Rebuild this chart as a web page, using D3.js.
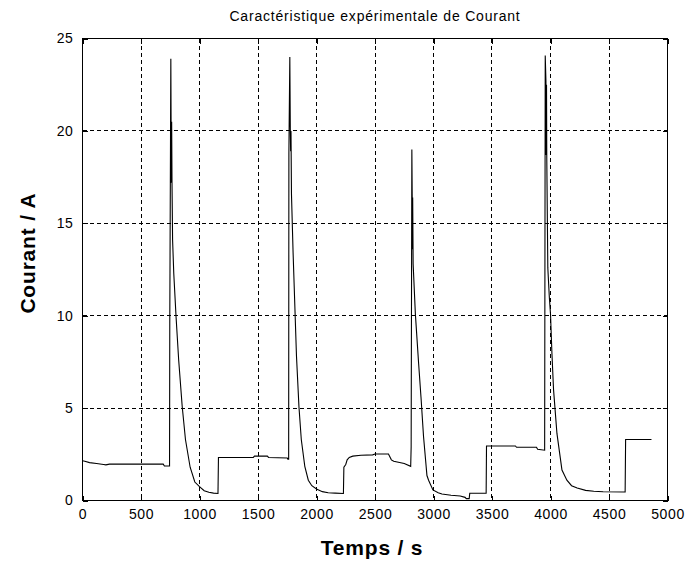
<!DOCTYPE html>
<html>
<head>
<meta charset="utf-8">
<script src="https://cdn.jsdelivr.net/npm/d3@7"></script>
<style>
  html, body { margin: 0; padding: 0; background: #fff; }
  svg { display: block; }
  text { font-family: "Liberation Sans", Arial, sans-serif; fill: #000; }
</style>
</head>
<body>
<svg id="chart" width="687" height="562"></svg>
<script>
// ---- data ----
const timeS = [
  0, 20, 60, 120, 180, 200, 230, 400, 600, 690, 700, 744,
  746, 755, 757, 759, 762, 765, 770, 780, 800, 822, 852, 880, 920, 960, 1000, 1040, 1080, 1120, 1158,
  1162, 1460, 1470, 1580, 1590, 1750, 1755, 1762,
  1764, 1772, 1776, 1779, 1782, 1786, 1800, 1815, 1829, 1850, 1870, 1900, 1930, 1960, 2000, 2050, 2100, 2160, 2230,
  2234, 2250, 2262, 2280, 2310, 2380, 2480, 2500, 2615, 2640, 2660, 2750, 2805,
  2809, 2815, 2818, 2820, 2822, 2826, 2845, 2873, 2893, 2915, 2944, 2958, 2995, 3040, 3072, 3150, 3228, 3270, 3280, 3305, 3310, 3450,
  3453, 3700, 3710, 3880, 3890, 3950,
  3955, 3961, 3963, 3966, 3968, 3977, 3990, 4000, 4012, 4026, 4055, 4098, 4140, 4180, 4228, 4300, 4370, 4450, 4638,
  4642, 4863
];
const currentA = [
  2.15, 2.12, 2.05, 2.0, 1.95, 1.93, 1.97, 1.97, 1.97, 1.97, 1.87, 1.87,
  9.6, 23.9, 20.6, 17.2, 20.5, 17.2, 14.1, 12.3, 9.9, 7.6, 5.1, 3.3, 1.8, 1.0, 0.75, 0.53, 0.45, 0.4, 0.38,
  2.33, 2.33, 2.4, 2.4, 2.33, 2.3, 2.24, 2.24,
  18.8, 24.0, 20.1, 18.9, 20.0, 16.6, 13.4, 10.5, 7.8, 5.07, 3.3, 1.85, 1.1, 0.8, 0.62, 0.48, 0.42, 0.4, 0.38,
  1.8, 1.95, 2.2, 2.33, 2.4, 2.45, 2.47, 2.52, 2.52, 2.2, 2.12, 2.0, 1.85,
  2.9, 19.0, 16.5, 13.6, 16.4, 12.8, 10.1, 7.4, 5.6, 3.45, 1.35, 1.1, 0.57, 0.42, 0.35, 0.28, 0.24, 0.17, 0.1, 0.1, 0.39, 0.39,
  2.95, 2.95, 2.88, 2.88, 2.77, 2.72,
  24.08, 22.7, 18.7, 22.5, 18.7, 12.6, 11.0, 10.1, 8.0, 6.0, 3.63, 1.65, 1.1, 0.8, 0.68, 0.55, 0.5, 0.47, 0.46,
  3.3, 3.3
];
const xTicks = [0, 500, 1000, 1500, 2000, 2500, 3000, 3500, 4000, 4500, 5000];
const yTicks = [0, 5, 10, 15, 20, 25];
const xDomain = [0, 5000];
const yDomain = [0, 25];
const titleText = "Caractéristique expérimentale de Courant";
const xLabel = "Temps / s";
const yLabel = "Courant / A";

// ---- layout ----
const L = 82.5, R = 667.5, T = 38.5, B = 500.5;
const svg = d3.select("#chart");
const x = d3.scaleLinear().domain(xDomain).range([L, R]);
const y = d3.scaleLinear().domain(yDomain).range([B, T]);

const points = timeS.map((t, i) => [t, currentA[i]]);

// grid
const gx = svg.append("g").attr("class", "grid");
gx.selectAll("line.vx").data(xTicks.filter(d => d > xDomain[0] && d < xDomain[1]))
  .join("line")
  .attr("x1", d => Math.round(x(d) - 0.5) + 0.5).attr("x2", d => Math.round(x(d) - 0.5) + 0.5)
  .attr("y1", T).attr("y2", B)
  .attr("stroke", "#000").attr("stroke-width", 1)
  .attr("stroke-dasharray", "4,3").attr("shape-rendering", "crispEdges");
gx.selectAll("line.hy").data(yTicks.filter(d => d > yDomain[0] && d < yDomain[1]))
  .join("line")
  .attr("y1", d => Math.round(y(d) - 0.5) + 0.5).attr("y2", d => Math.round(y(d) - 0.5) + 0.5)
  .attr("x1", L).attr("x2", R)
  .attr("stroke", "#000").attr("stroke-width", 1)
  .attr("stroke-dasharray", "4,3").attr("shape-rendering", "crispEdges");

// data line
svg.append("path")
  .datum(points)
  .attr("fill", "none")
  .attr("stroke", "#000")
  .attr("stroke-width", 1.1)
  .attr("d", d3.line().x(d => x(d[0])).y(d => y(d[1])));

// axes
function styleAxis(g, hideText) {
  g.select(".domain").remove();
  g.selectAll(".tick line").attr("stroke", "#000").attr("shape-rendering", "crispEdges");
  g.selectAll(".tick text")
    .attr("font-size", 14)
    .attr("letter-spacing", "0.6px")
    .attr("font-family", "'Liberation Sans', Arial, sans-serif");
  if (hideText) g.selectAll(".tick text").remove();
}
svg.append("g").attr("transform", `translate(0,${B})`)
  .call(d3.axisBottom(x).tickValues(xTicks).tickFormat(d3.format("d")).tickSizeInner(-5).tickSizeOuter(0).tickPadding(9))
  .call(g => styleAxis(g, false));
svg.append("g").attr("transform", `translate(0,${T})`)
  .call(d3.axisTop(x).tickValues(xTicks).tickSizeInner(-5).tickSizeOuter(0))
  .call(g => styleAxis(g, true));
svg.append("g").attr("transform", `translate(${L},0)`)
  .call(d3.axisLeft(y).tickValues(yTicks).tickFormat(d3.format("d")).tickSizeInner(-5).tickSizeOuter(0).tickPadding(9))
  .call(g => styleAxis(g, false));
svg.append("g").attr("transform", `translate(${R},0)`)
  .call(d3.axisRight(y).tickValues(yTicks).tickSizeInner(-5).tickSizeOuter(0))
  .call(g => styleAxis(g, true));

// box
svg.append("rect")
  .attr("x", L).attr("y", T).attr("width", R - L).attr("height", B - T)
  .attr("fill", "none").attr("stroke", "#000").attr("stroke-width", 1)
  .attr("shape-rendering", "crispEdges");

// title and labels
svg.append("text")
  .attr("x", (L + R) / 2).attr("y", 21)
  .attr("text-anchor", "middle")
  .attr("font-size", 14)
  .attr("letter-spacing", "0.8px")
  .text(titleText);

svg.append("text")
  .attr("x", (L + R) / 2 - 3).attr("y", 555)
  .attr("text-anchor", "middle")
  .attr("font-size", 21)
  .attr("font-weight", "bold")
  .attr("letter-spacing", "0.8px")
  .text(xLabel);

svg.append("text")
  .attr("transform", `translate(35,${253}) rotate(-90)`)
  .attr("text-anchor", "middle")
  .attr("font-size", 21)
  .attr("font-weight", "bold")
  .attr("letter-spacing", "0.8px")
  .text(yLabel);
</script>
</body>
</html>
